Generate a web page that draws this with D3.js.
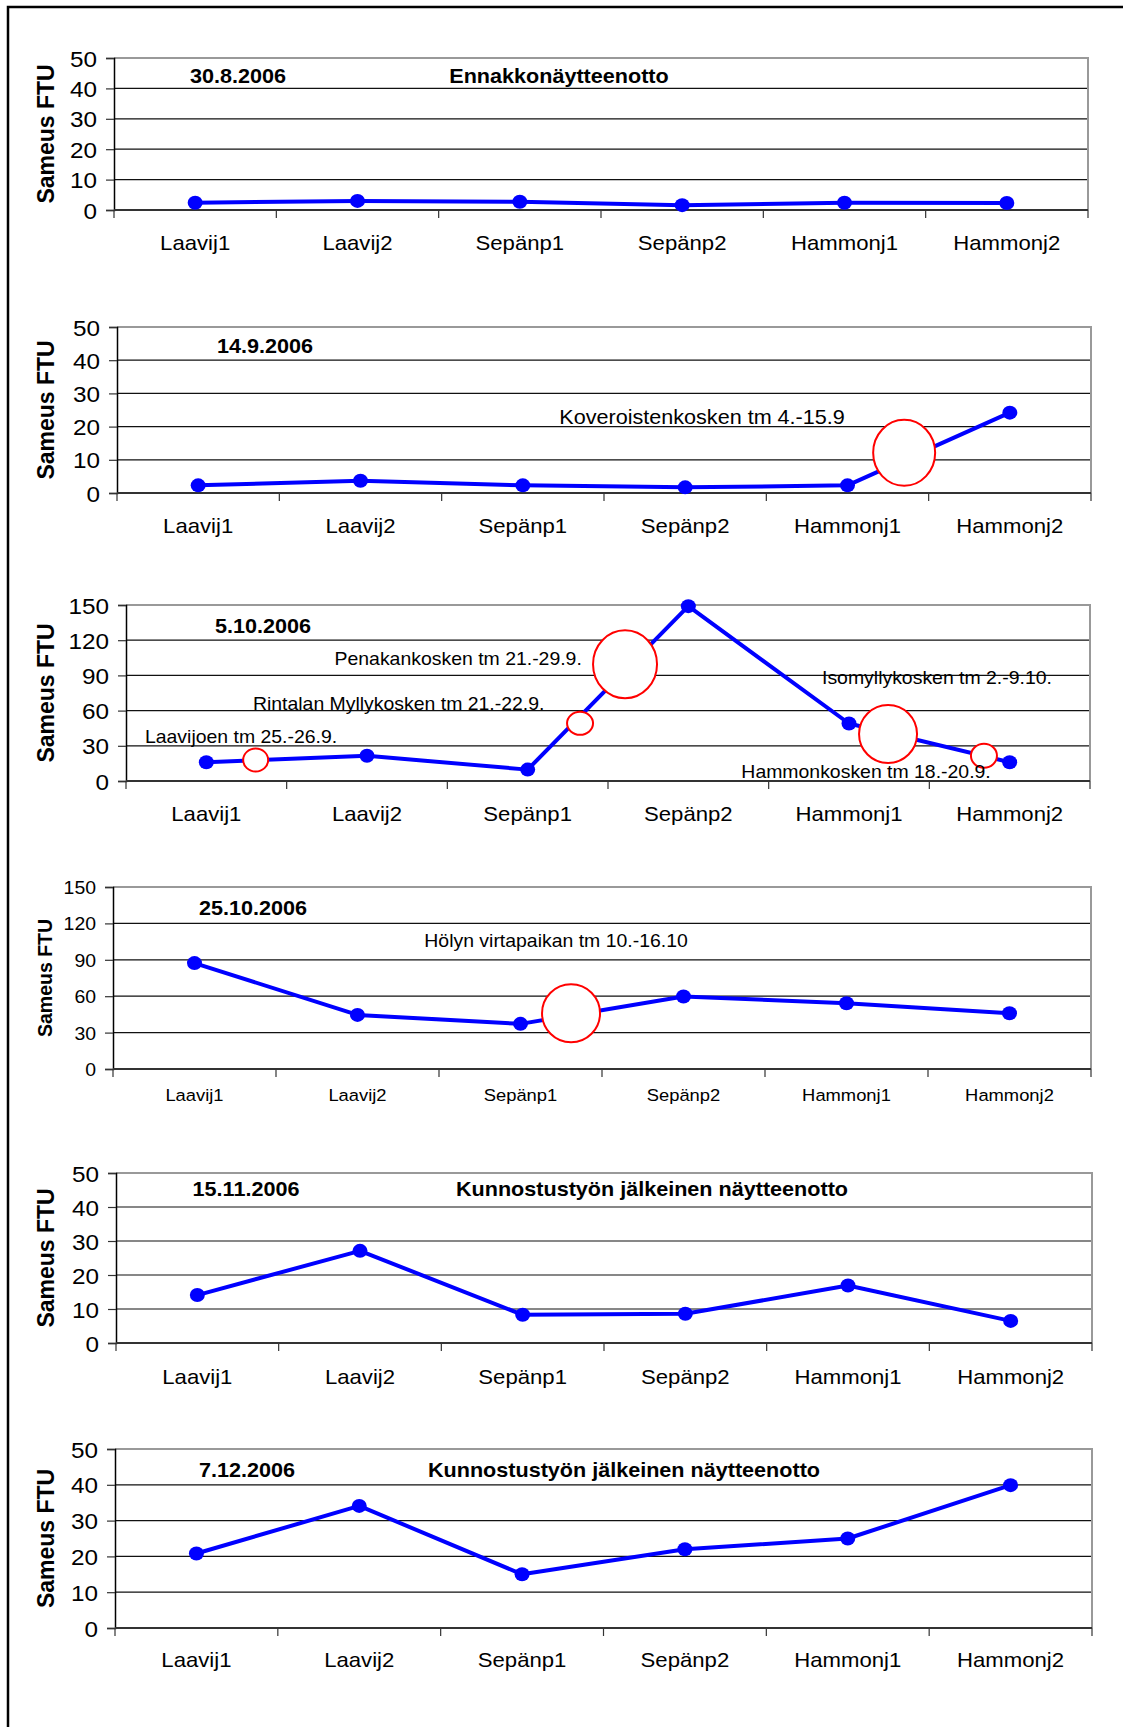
<!DOCTYPE html>
<html><head><meta charset="utf-8">
<script src="https://cdn.jsdelivr.net/npm/d3@7"></script>
<style>html,body{margin:0;padding:0;background:#fff}svg{display:block}</style>
</head><body>
<script>
// ---------- DATA ----------
const categories = ["Laavij1","Laavij2","Sepänp1","Sepänp2","Hammonj1","Hammonj2"];
const dates = ["30.8.2006","14.9.2006","5.10.2006","25.10.2006","15.11.2006","7.12.2006"];
const subtitles = ["Ennakkonäytteenotto","","","","Kunnostustyön jälkeinen näytteenotto","Kunnostustyön jälkeinen näytteenotto"];
const values1 = [2.4, 3.0, 2.7, 1.6, 2.4, 2.3];
const values2 = [2.3, 3.7, 2.3, 1.7, 2.3, 24.2];
const values3 = [16, 21.5, 9.7, 149, 49, 16];
const values4 = [87.3, 44.6, 37.2, 59.7, 54.2, 46];
const values5 = [14.1, 27.1, 8.3, 8.6, 16.9, 6.5];
const values6 = [20.8, 34.1, 15, 22, 25, 39.9];
const allValues = [values1, values2, values3, values4, values5, values6];
const ticks50 = [0,10,20,30,40,50];
const ticks150 = [0,30,60,90,120,150];
const yTicks = [ticks50, ticks50, ticks150, ticks150, ticks50, ticks50];
const yTitle = "Sameus FTU";
// annotation labels: chart index, category position (fractional index), value
const noteTexts = ["Koveroistenkosken tm 4.-15.9","Penakankosken tm 21.-29.9.","Rintalan Myllykosken tm 21.-22.9.","Laavijoen tm 25.-26.9.","Isomyllykosken tm 2.-9.10.","Hammonkosken tm 18.-20.9.","Hölyn virtapaikan tm 10.-16.10"];
const noteChart = [1,2,2,2,2,2,3];
const notePos = [3.104, 0.798, 0.29, -0.382, 3.832, 3.33, 2.218];
const noteVal = [20.8, 98.9, 60.5, 32.4, 82.7, 2.3, 100.5];
// red ring markers: chart index, fractional category position, value
const ringChart = [1,2,2,2,2,2,3];
const ringPos = [4.349, 0.307, 2.326, 2.606, 4.243, 4.84, 2.31];
const ringVal = [12.1, 17.9, 49.2, 99.5, 40, 21.6, 45.9];

// ---------- LAYOUT ----------
const SX = 1.08;
const layout = [
  {l:114,r:1088,t:58,b:210,tick:22.5,lab:20.5,yt:23,ttl:20,note:20,labDy:40,tY:25,dX:238,sX:559},
  {l:117,r:1091,t:327,b:493,tick:22.5,lab:20.5,yt:23,ttl:20,note:20,labDy:40,tY:26,dX:265,sX:0},
  {l:126,r:1090,t:605,b:781,tick:22.5,lab:20.5,yt:23,ttl:20,note:18,labDy:40,tY:28,dX:263,sX:0},
  {l:113,r:1091,t:887,b:1069,tick:18,lab:17,yt:19.5,ttl:20,note:18,labDy:32,tY:28,dX:253,sX:0},
  {l:116,r:1092,t:1173,b:1343,tick:22.5,lab:20.5,yt:23,ttl:20,note:20,labDy:41,tY:23,dX:246,sX:652},
  {l:115,r:1092,t:1449,b:1628,tick:22.5,lab:20.5,yt:23,ttl:20,note:20,labDy:39,tY:28,dX:247,sX:624}
];
const ringSize = [[31,33],[12.5,11.5],[13,11.5],[32,34],[29,29],[13,12],[29,29]];
const FONT = "'Liberation Sans', Arial, sans-serif";

const W = 1123, H = 1727;
const svg = d3.select("body").append("svg").attr("width", W).attr("height", H);
svg.append("rect").attr("width", W).attr("height", H).attr("fill", "#fff");
// outer frame (top & left)
svg.append("path").attr("d", `M8,${H} V7 H${W}`).attr("fill","none").attr("stroke","#000").attr("stroke-width",2.5);

function stext(g, x, y, str, size, opt = {}) {
  return g.append("text")
    .attr("transform", `translate(${x},${y}) scale(${SX},1)` + (opt.rotate ? " rotate(-90)" : ""))
    .attr("text-anchor", opt.anchor || "middle")
    .attr("dominant-baseline", opt.baseline || "auto")
    .attr("font-family", FONT)
    .attr("font-size", size)
    .attr("font-weight", opt.bold ? "bold" : "normal")
    .attr("fill", "#000")
    .text(str);
}

allValues.forEach((vals, ci) => {
  const L = layout[ci];
  const ticks = yTicks[ci];
  const yMax = d3.max(ticks);
  const g = svg.append("g");
  const x = d3.scaleBand().domain(categories).range([L.l, L.r]);
  const xi = d3.scaleLinear().domain([-0.5, categories.length - 0.5]).range([L.l, L.r]);
  const y = d3.scaleLinear().domain([0, yMax]).range([L.b, L.t]);

  // gridlines
  g.selectAll(".grid").data(ticks.filter(v => v > 0 && v < yMax)).enter().append("line")
    .attr("x1", L.l).attr("x2", L.r).attr("y1", d => y(d)).attr("y2", d => y(d))
    .attr("stroke", "#111").attr("stroke-width", 1.2);
  // plot border top & right (grey)
  g.append("path").attr("d", `M${L.l},${y(yMax)} H${L.r} V${L.b}`)
    .attr("fill","none").attr("stroke","#999").attr("stroke-width",2);

  // y axis
  const ya = g.append("g").attr("transform", `translate(${L.l},0)`)
    .call(d3.axisLeft(y).tickValues(ticks).tickSize(8).tickFormat(d3.format("d")));
  ya.select(".domain").attr("stroke", "#000").attr("stroke-width", 1.5);
  ya.selectAll(".tick line").attr("stroke", "#333").attr("stroke-width", 1.2);
  ya.selectAll(".tick text")
    .attr("x", -17 / SX).attr("dy", "0.36em")
    .attr("transform", `scale(${SX},1)`)
    .attr("font-family", FONT).attr("font-size", L.tick).attr("fill", "#000");

  // x axis (boundary ticks)
  const bounds = categories.map(c => x(c)).concat([x.range()[1]]);
  g.selectAll(".xt").data(bounds).enter().append("line")
    .attr("x1", d => d).attr("x2", d => d).attr("y1", L.b).attr("y2", L.b + 8)
    .attr("stroke", "#333").attr("stroke-width", 1.2);
  g.append("line").attr("x1", L.l).attr("x2", L.r).attr("y1", L.b).attr("y2", L.b)
    .attr("stroke", "#333").attr("stroke-width", 2);
  categories.forEach(c => stext(g, x(c) + x.bandwidth() / 2, L.b + L.labDy, c, L.lab));

  // y title
  stext(g, 45, (L.t + L.b) / 2, yTitle, L.yt, {bold: true, rotate: true, baseline: "central"});

  // series line + markers
  const line = d3.line().x((d, i) => x(categories[i]) + x.bandwidth() / 2).y(d => y(d));
  g.append("path").datum(vals).attr("d", line)
    .attr("fill", "none").attr("stroke", "#0000ff").attr("stroke-width", 4).attr("stroke-linejoin", "round");
  g.selectAll(".pt").data(vals).enter().append("ellipse")
    .attr("cx", (d, i) => x(categories[i]) + x.bandwidth() / 2).attr("cy", d => y(d))
    .attr("rx", 7.5).attr("ry", 7).attr("fill", "#0000ff");

  // red rings
  ringChart.forEach((c, k) => {
    if (c !== ci) return;
    g.append("ellipse").attr("cx", xi(ringPos[k])).attr("cy", y(ringVal[k]))
      .attr("rx", ringSize[k][0]).attr("ry", ringSize[k][1])
      .attr("fill", "#fff").attr("stroke", "#ff0000").attr("stroke-width", 2);
  });
  // annotations
  noteChart.forEach((c, k) => {
    if (c !== ci) return;
    const anchor = ci === 2 ? "start" : "middle";
    stext(g, xi(notePos[k]), y(noteVal[k]), noteTexts[k], L.note, {anchor});
  });

  // titles
  stext(g, L.dX, L.t + L.tY, dates[ci], L.ttl, {bold: true});
  if (subtitles[ci]) stext(g, L.sX, L.t + L.tY, subtitles[ci], L.ttl, {bold: true});
});
</script>
</body></html>
